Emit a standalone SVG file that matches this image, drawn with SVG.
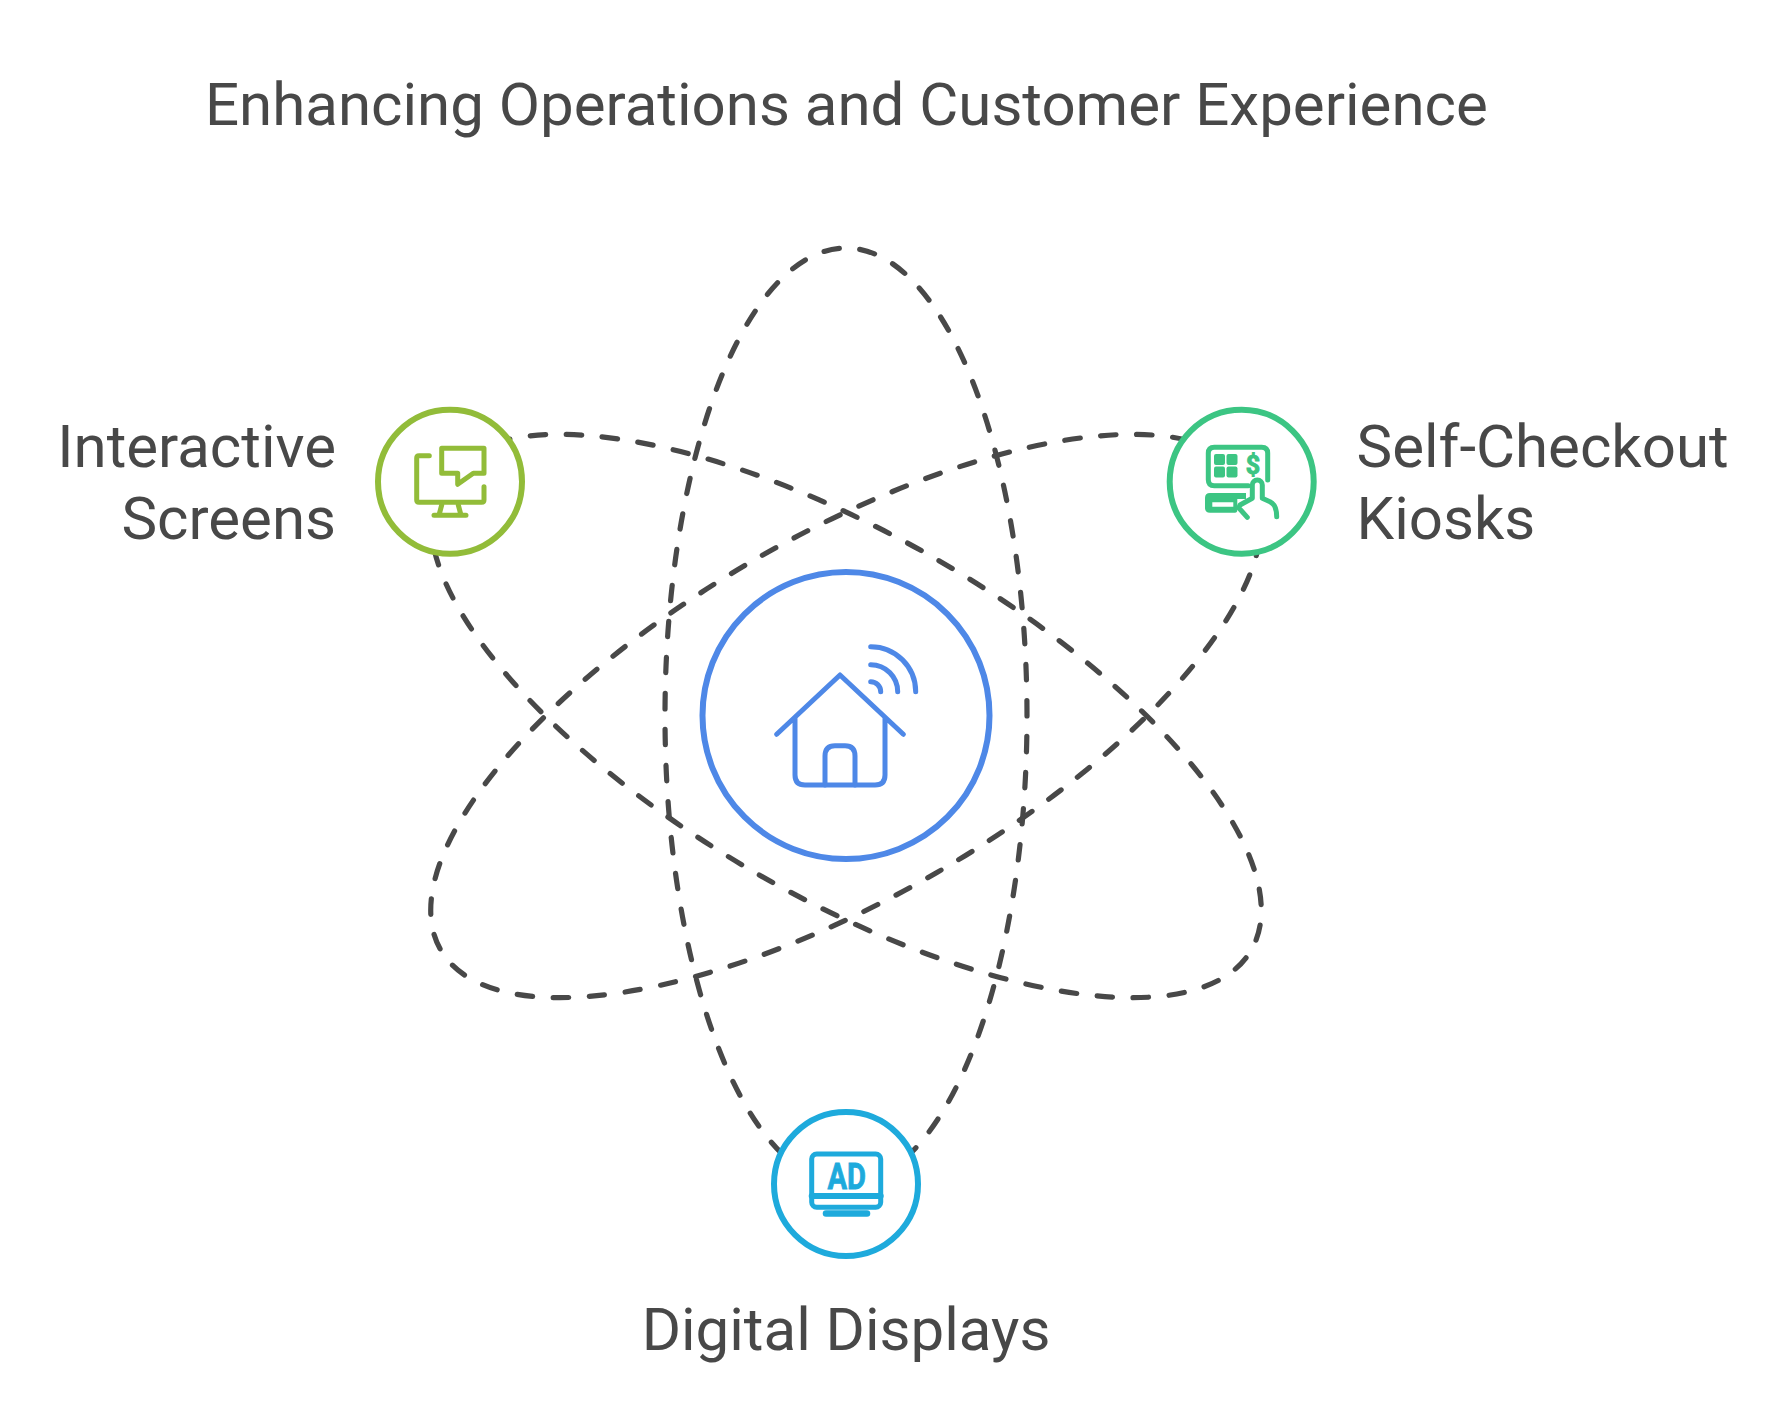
<svg xmlns="http://www.w3.org/2000/svg" width="1775" height="1426" viewBox="0 0 1775 1426">
<style>
.t{font-family:Roboto,"Liberation Sans",sans-serif;font-size:60px;fill:#484848}
.o{fill:none;stroke:#484848;stroke-width:5.200;stroke-linecap:round;stroke-dasharray:15.500 20.600}
.n{fill:#fff;stroke-width:6}
.i{fill:none;stroke-width:5;stroke-linecap:round;stroke-linejoin:round}
.g{font-family:Roboto,"Liberation Sans",sans-serif;font-weight:700}
</style>
<defs>
<path id="orbit" d="M846 248A181 468 0 1 1 846 1184A181 468 0 1 1 846 248Z"/>
<path id="orbit-v" d="M846 1184A181 468 0 1 1 846 248A181 468 0 1 1 846 1184Z"/>
</defs>
<rect width="1775" height="1426" fill="#fff"/>
<text id="title" class="t" x="205" y="125">Enhancing Operations and Customer Experience</text>
<g id="connectors">
<use href="#orbit-v" class="o" stroke-dashoffset="-0.550"/>
<use href="#orbit" class="o" stroke-dashoffset="-24.150" transform="rotate(60 846 716)"/>
<use href="#orbit" class="o" stroke-dashoffset="-32.350" transform="rotate(-60 846 716)"/>
</g>
<g id="center">
<circle class="n" cx="846" cy="715.500" r="143.500" stroke="#4e88e7"/>
<g class="i" stroke="#4e88e7">
<path d="M776.700 734.300L840 675L903.300 734.300M795 718.300V775Q795 785 805 785H875Q885 785 885 775V718.300"/>
<path d="M825 785V756Q825 745.700 835 745.700H845Q855 745.700 855 756V785"/>
<path d="M870.700 681.700A10 10 0 0 1 880.700 691.700M870.700 664.700A27 27 0 0 1 897.700 691.700M870.700 646.700A45 45 0 0 1 915.700 691.700"/>
</g>
</g>
<g id="interactive-screens">
<circle class="n" cx="450" cy="481.700" r="72" stroke="#92bc39"/>
<g class="i" stroke="#92bc39">
<path d="M429.300 455.700H419Q416.700 455.700 416.700 458V500Q416.700 502.300 419 502.300H481.700Q484 502.300 484 500V486.700"/>
<path d="M441.700 448.300H484V473.300H473.300L457.700 484.300V473.300H441.700Z"/>
<path d="M434 515.300H466M441.700 505L439.300 514M458.300 505L460.700 514"/>
</g>
<text class="t" x="336" y="467" text-anchor="end">Interactive</text>
<text class="t" x="336" y="539" text-anchor="end">Screens</text>
</g>
<g id="self-checkout">
<circle class="n" cx="1241.700" cy="481.700" r="72" stroke="#3cc583"/>
<g class="i" stroke="#3cc583">
<path d="M1248.300 485.700H1214.300Q1208.300 485.700 1208.300 479.700V453.300Q1208.300 447.300 1214.300 447.300H1261.700Q1267.700 447.300 1267.700 453.300V480"/>
<path d="M1240 505L1252.300 498.300V485A5 5 0 0 1 1262.300 485V498.300L1270 501.700Q1276.700 505 1276.700 516.700M1238.300 507.300L1247.300 517.300"/>
</g>
<g fill="#3cc583">
<rect x="1214" y="454" width="11" height="11" rx="2"/><rect x="1226.500" y="454" width="11" height="11" rx="2"/><rect x="1214" y="466.500" width="11" height="11" rx="2"/><rect x="1226.500" y="466.500" width="11" height="11" rx="2"/>
<path fill-rule="evenodd" d="M1210 493H1246V499H1237.300V510Q1237.300 512.700 1235 512.700H1210Q1205 512.700 1205 508V498Q1205 493 1210 493ZM1212.300 502.300V506.700H1233.300V502.300Z"/>
</g>
<text class="g" x="1253" y="473.500" text-anchor="middle" font-size="25" fill="#3cc583" stroke="#3cc583" stroke-width="1">$</text>
<text class="t" x="1356.500" y="467">Self-Checkout</text>
<text class="t" x="1356.500" y="539">Kiosks</text>
</g>
<g id="digital-displays">
<circle class="n" cx="846" cy="1184" r="72" stroke="#1eaadc"/>
<g class="i" stroke="#1eaadc">
<rect x="811.700" y="1154" width="69" height="53.300" rx="5"/>
<path d="M811.700 1196H880.700" stroke-width="6"/>
<path d="M826 1213.500H867" stroke-width="6.500"/>
</g>
<text class="g" x="827.500" y="1189.300" font-size="36.500" textLength="38.500" lengthAdjust="spacingAndGlyphs" fill="#1eaadc" stroke="#1eaadc" stroke-width=".8">AD</text>
<text class="t" x="846" y="1350" text-anchor="middle">Digital Displays</text>
</g>
</svg>
